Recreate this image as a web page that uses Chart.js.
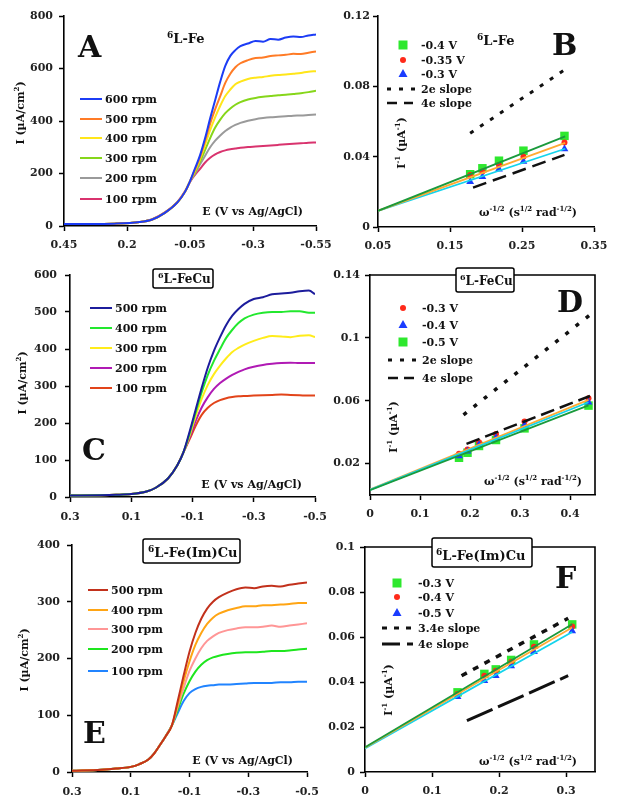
<!DOCTYPE html>
<html>
<head>
<meta charset="utf-8">
<script src="https://cdn.jsdelivr.net/npm/chart.js@4.4.1/dist/chart.umd.min.js"></script>
<style>
html, body { margin: 0; padding: 0; background: #fff; }
#wrap { position: relative; width: 621px; height: 812px; overflow: hidden; background: #fff; }
.p { position: absolute; }
</style>
</head>
<body>
<div id="wrap">
  <div class="p"><canvas id="cA"></canvas></div>
  <div class="p"><canvas id="cB"></canvas></div>
  <div class="p"><canvas id="cC"></canvas></div>
  <div class="p"><canvas id="cD"></canvas></div>
  <div class="p"><canvas id="cE"></canvas></div>
  <div class="p"><canvas id="cF"></canvas></div>
</div>
<script>
const FONT = '"DejaVu Serif", serif';

// ---- Panel A: 6L-Fe, LSV at several rotation rates ----
const eA = [0.45, 0.35, 0.25, 0.15, 0.1, 0.05, 0.0, -0.03, -0.05, -0.07, -0.09, -0.11, -0.13, -0.15,
            -0.17, -0.19, -0.21, -0.23, -0.25, -0.28, -0.31, -0.34, -0.37, -0.40, -0.43, -0.46, -0.49, -0.52, -0.55];
const iA600 = [8, 8, 9, 15, 25, 50, 90, 130, 170, 220, 270, 335, 410, 480, 550, 610, 648, 670, 685, 695, 705, 702, 712, 710, 718, 722, 720, 726, 730];
const iA500 = [8, 8, 9, 15, 25, 50, 90, 130, 170, 215, 262, 325, 390, 445, 495, 545, 580, 605, 620, 632, 640, 642, 648, 650, 652, 656, 655, 660, 665];
const iA400 = [8, 8, 9, 15, 25, 50, 90, 130, 170, 210, 255, 310, 365, 415, 458, 495, 520, 540, 550, 560, 565, 568, 572, 575, 577, 580, 583, 588, 590];
const iA300 = [8, 8, 9, 15, 25, 50, 90, 130, 170, 205, 245, 290, 335, 375, 405, 430, 448, 462, 472, 482, 488, 492, 495, 498, 500, 503, 506, 510, 515];
const iA200 = [8, 8, 9, 15, 25, 50, 90, 130, 170, 200, 235, 268, 300, 325, 345, 362, 375, 385, 393, 401, 407, 411, 414, 416, 418, 420, 421, 423, 425];
const iA100 = [8, 8, 9, 15, 26, 52, 92, 132, 168, 195, 218, 242, 260, 273, 282, 288, 292, 295, 298, 301, 303, 305, 307, 309, 311, 313, 315, 317, 318];
const rpmA = ['600 rpm', '500 rpm', '400 rpm', '300 rpm', '200 rpm', '100 rpm'];
const colA = ['#1c3cf5', '#ff7b26', '#ffe61a', '#86d61a', '#9a9a9a', '#d9336e'];
const axA = [0.45, 0.2, -0.05, -0.3, -0.55];
const ayA = [0, 200, 400, 600, 800];

// ---- Panel B: 6L-Fe, Koutecky-Levich ----
const wB = [0.178, 0.195, 0.218, 0.252, 0.309];
const b04 = [0.0300, 0.0334, 0.0377, 0.0434, 0.0518];
const b035 = [0.0296, 0.0315, 0.0353, 0.0400, 0.0480];
const b03 = [0.0258, 0.0286, 0.0328, 0.0372, 0.0444];
const fitWB = [0.05, 0.31];
const fitB04 = [0.0092, 0.0515];
const fitB035 = [0.0092, 0.0478];
const fitB03 = [0.0092, 0.0445];
const w2eB = [0.178, 0.309], v2eB = [0.0533, 0.0893];
const w4eB = [0.182, 0.309], v4eB = [0.0224, 0.0410];
const axB = [0.05, 0.15, 0.25, 0.35];
const ayB = [0, 0.04, 0.08, 0.12];

// ---- Panel C: 6L-FeCu, LSV ----
const eC = [0.3, 0.2, 0.15, 0.1, 0.05, 0.02, -0.02, -0.05, -0.07, -0.09, -0.11, -0.13, -0.15, -0.17,
            -0.19, -0.21, -0.23, -0.25, -0.27, -0.30, -0.33, -0.36, -0.39, -0.42, -0.45, -0.48, -0.50];
const iC500 = [4, 5, 6, 8, 15, 25, 50, 85, 120, 175, 235, 295, 350, 395, 432, 465, 490, 508, 522, 535, 540, 548, 550, 552, 556, 558, 548];
const iC400 = [4, 5, 6, 8, 15, 25, 50, 85, 120, 170, 228, 283, 330, 368, 400, 430, 452, 470, 483, 493, 498, 500, 500, 502, 502, 498, 498];
const iC300 = [4, 5, 6, 8, 15, 25, 50, 85, 120, 165, 218, 265, 303, 332, 355, 375, 392, 403, 412, 422, 430, 435, 434, 432, 436, 437, 432];
const iC200 = [4, 5, 6, 8, 15, 25, 50, 85, 120, 160, 205, 242, 270, 292, 308, 320, 330, 338, 345, 352, 357, 360, 362, 363, 362, 362, 362];
const iC100 = [4, 5, 6, 8, 15, 25, 50, 85, 120, 155, 192, 222, 241, 254, 262, 267, 270, 272, 273, 274, 275, 276, 277, 276, 275, 274, 274];
const rpmC = ['500 rpm', '400 rpm', '300 rpm', '200 rpm', '100 rpm'];
const colC = ['#1c1c9c', '#22e82e', '#ffec1a', '#b01ab4', '#e2441a'];
const axC = [0.3, 0.1, -0.1, -0.3, -0.5];
const ayC = [0, 100, 200, 300, 400, 500, 600];

// ---- Panel D: 6L-FeCu, Koutecky-Levich ----
const wD = [0.178, 0.195, 0.218, 0.252, 0.309, 0.437];
const d03 = [0.0262, 0.0290, 0.0335, 0.0388, 0.0467, 0.0615];
const d04 = [0.0248, 0.0278, 0.0320, 0.0365, 0.0445, 0.0590];
const d05 = [0.0237, 0.0269, 0.0312, 0.0350, 0.0424, 0.0569];
const fitWD = [0, 0.437];
const fitD03 = [0.0035, 0.0605];
const fitD04 = [0.0033, 0.0590];
const fitD05 = [0.0030, 0.0570];
const w2eD = [0.187, 0.44], v2eD = [0.051, 0.1146];
const w4eD = [0.193, 0.44], v4eD = [0.0325, 0.063];
const axD = [0, 0.1, 0.2, 0.3, 0.4];
const ayD = [0.02, 0.06, 0.1, 0.14];

// ---- Panel E: 6L-Fe(Im)Cu, LSV ----
const eE = [0.3, 0.2, 0.15, 0.1, 0.07, 0.04, 0.02, 0.0, -0.02, -0.04, -0.06, -0.08, -0.10, -0.12,
            -0.14, -0.16, -0.18, -0.20, -0.23, -0.26, -0.29, -0.32, -0.35, -0.38, -0.41, -0.44, -0.47, -0.50];
const iE500 = [2, 4, 6, 9, 14, 22, 33, 48, 64, 82, 125, 170, 212, 245, 270, 288, 300, 308, 316, 322, 325, 324, 327, 328, 327, 330, 332, 334];
const iE400 = [2, 4, 6, 9, 14, 22, 33, 48, 64, 82, 120, 160, 195, 224, 245, 261, 272, 279, 285, 289, 292, 292, 294, 294, 295, 296, 298, 298];
const iE300 = [2, 4, 6, 9, 14, 22, 33, 48, 64, 82, 115, 148, 178, 200, 218, 231, 239, 245, 250, 253, 255, 255, 256, 258, 256, 258, 260, 262];
const iE200 = [2, 4, 6, 9, 14, 22, 33, 48, 64, 82, 110, 138, 160, 177, 189, 197, 202, 205, 208, 210, 211, 211, 212, 213, 213, 214, 216, 217];
const iE100 = [2, 4, 6, 9, 14, 22, 33, 48, 64, 82, 104, 125, 139, 146, 150, 152, 153, 154, 154, 155, 156, 157, 157, 157, 158, 158, 159, 159];
const rpmE = ['500 rpm', '400 rpm', '300 rpm', '200 rpm', '100 rpm'];
const colE = ['#c2311c', '#ffa514', '#ff9696', '#1ee61e', '#2184ff'];
const axE = [0.3, 0.1, -0.1, -0.3, -0.5];
const ayE = [0, 100, 200, 300, 400];

// ---- Panel F: 6L-Fe(Im)Cu, Koutecky-Levich ----
const wF = [0.138, 0.178, 0.195, 0.218, 0.252, 0.309];
const f03 = [0.0354, 0.0436, 0.0456, 0.0498, 0.0567, 0.0656];
const f04 = [0.0347, 0.0428, 0.0450, 0.0490, 0.0557, 0.0647];
const f05 = [0.0335, 0.0406, 0.0428, 0.0471, 0.0535, 0.0627];
const fitWF = [0, 0.309];
const fitF03 = [0.0110, 0.0657];
const fitF04 = [0.0108, 0.0642];
const fitF05 = [0.0105, 0.0622];
const w34eF = [0.144, 0.303], v34eF = [0.0428, 0.0683];
const w4eF = [0.152, 0.303], v4eF = [0.0228, 0.0428];
const axF = [0, 0.1, 0.2, 0.3];
const ayF = [0, 0.02, 0.04, 0.06, 0.08, 0.1];

// marker / fit colours shared by the KL panels
const GREEN = '#2ee82e', RED = '#ff2a1a', BLUE = '#1a3cff';
const FIT_GREEN = '#1a9a3c', FIT_ORANGE = '#ffaa33', FIT_CYAN = '#14d4ec';

function pts(xs, ys) { return xs.map((x, i) => ({ x: x, y: ys[i] })); }

function lsvSets(e, curves, cols, labels) {
  return curves.map((c, i) => ({
    label: labels[i], data: pts(e, c), showLine: true, borderColor: cols[i],
    borderWidth: 2, pointRadius: 0, cubicInterpolationMode: 'monotone', order: i
  }));
}
function marker(xs, ys, col, style, r, ord) {
  return { data: pts(xs, ys), showLine: false, pointStyle: style, pointRadius: r,
           pointBackgroundColor: col, pointBorderWidth: 0, order: ord };
}
function line(xs, ys, col, width, dash, ord) {
  return { data: pts(xs, ys), showLine: true, borderColor: col, borderWidth: width,
           borderDash: dash || [], pointRadius: 0, order: ord };
}

function axis(min, max, ticks, reverse, size, isX, pad) {
  return {
    type: 'linear', min: min, max: max, reverse: !!reverse,
    afterBuildTicks: s => { s.ticks = ticks.map(v => ({ value: v })); },
    afterFit: s => { if (isX) s.height = size; else s.width = size; },
    grid: { display: true, drawOnChartArea: false, drawTicks: true, tickLength: 5,
            tickWidth: 1.5, tickColor: '#000', color: '#000' },
    border: { display: true, color: '#000', width: 1.6 },
    ticks: { color: '#222', padding: pad, autoSkip: false, maxRotation: 0,
             font: { family: FONT, size: 11, weight: 'bold' }, callback: v => String(v) }
  };
}

// text with superscripts: parts = [[text, isSup], ...], y = baseline
function rich(c, parts, x, y, size, align) {
  const big = 'bold ' + size + 'px ' + FONT;
  const small = 'bold ' + Math.round(size * 0.68) + 'px ' + FONT;
  let w = 0;
  parts.forEach(p => { c.font = p[1] ? small : big; w += c.measureText(p[0]).width; });
  let cx = align === 'right' ? x - w : align === 'center' ? x - w / 2 : x;
  c.textAlign = 'left';
  c.textBaseline = 'alphabetic';
  parts.forEach(p => {
    c.font = p[1] ? small : big;
    c.fillText(p[0], cx, p[1] ? y - size * 0.42 : y);
    cx += c.measureText(p[0]).width;
  });
}

function drawMark(c, style, x, y, col) {
  c.fillStyle = col;
  c.beginPath();
  if (style === 'rect') c.rect(x - 4.5, y - 4.5, 9, 9);
  else if (style === 'circle') c.arc(x, y, 3, 0, Math.PI * 2);
  else { c.moveTo(x, y - 5); c.lineTo(x + 4.5, y + 3); c.lineTo(x - 4.5, y + 3); c.closePath(); }
  c.fill();
}

// draws titles, panel letters, axis titles, legends, frames
function deco(spec, box) {
  return {
    id: 'deco',
    afterDraw(chart) {
      const c = chart.ctx, a = chart.chartArea;
      c.save();
      if (spec.frame) {
        c.strokeStyle = '#000'; c.lineWidth = 1.6;
        c.beginPath(); c.moveTo(a.left, a.top); c.lineTo(a.right, a.top); c.lineTo(a.right, a.bottom); c.stroke();
      }
      c.translate(-box.x, -box.y);
      c.fillStyle = '#111';
      if (spec.tbox) {
        const t = spec.tbox;
        c.fillStyle = '#fff'; c.strokeStyle = '#000'; c.lineWidth = 1.5;
        c.beginPath(); c.roundRect(t[0], t[1], t[2], t[3], 2); c.fill(); c.stroke();
        c.fillStyle = '#111';
      }
      rich(c, [['6', 1], [spec.title, 0]], spec.tx, spec.ty, spec.tsize, 'left');
      c.font = 'bold 30px ' + FONT;
      c.textAlign = 'left'; c.textBaseline = 'alphabetic';
      c.fillText(spec.letter[0], spec.letter[1], spec.letter[2]);
      // y title (rotated)
      c.save();
      c.translate(spec.yt[0], spec.yt[1]);
      c.rotate(-Math.PI / 2);
      rich(c, spec.yparts, 0, 4, 11, 'center');
      c.restore();
      rich(c, spec.xparts, spec.xt[0], spec.xt[1], 11, 'right');
      // legend
      const L = spec.legend;
      L.rows.forEach(r => {
        if (r.type === 'line') {
          c.save();
          c.strokeStyle = r.color; c.lineWidth = r.width; c.setLineDash(r.dash || []);
          c.beginPath(); c.moveTo(L.lx0, r.y); c.lineTo(r.lx1 || L.lx1, r.y); c.stroke();
          c.restore();
        } else {
          drawMark(c, r.type, L.mx, r.y, r.color);
        }
        c.fillStyle = '#111';
        c.font = 'bold 11px ' + FONT;
        c.textAlign = 'left'; c.textBaseline = 'alphabetic';
        c.fillText(r.label, L.tx, r.y + 4);
      });
      c.restore();
    }
  };
}

function makeChart(id, box, xAx, yAx, datasets, spec) {
  const cv = document.getElementById(id);
  cv.width = box.w; cv.height = box.h;
  cv.parentNode.style.cssText = 'left:' + box.x + 'px;top:' + box.y + 'px;width:' + box.w + 'px;height:' + box.h + 'px';
  new Chart(cv, {
    type: 'scatter',
    data: { datasets: datasets },
    options: {
      responsive: false, animation: false, events: [],
      layout: { padding: { left: 0, right: box.pr, top: box.pt, bottom: 0 } },
      plugins: { legend: { display: false }, tooltip: { enabled: false } },
      scales: { x: xAx, y: yAx }
    },
    plugins: [deco(spec, box)]
  });
}

const yLSV = [['I (\u00b5A/cm', 0], ['2', 1], [')', 0]];
const xLSV = [['E (V vs Ag/AgCl)', 0]];
const yKL = [['I', 0], ['-1', 1], [' (\u00b5A', 0], ['-1', 1], [')', 0]];
const xKL = [['\u03c9', 0], ['-1/2', 1], [' (s', 0], ['1/2', 1], [' rad', 0], ['-1/2', 1], [')', 0]];

function lsvLegend(lx0, lx1, tx, ys, labels, cols) {
  return { lx0: lx0, lx1: lx1, tx: tx,
           rows: ys.map((y, i) => ({ type: 'line', color: cols[i], width: 2, label: labels[i], y: y })) };
}

// ---------- A ----------
makeChart('cA', { x: 0, y: 0, w: 345, h: 262, pr: 29, pt: 16 },
  axis(-0.55, 0.45, axA, true, 36, true, 8),
  axis(0, 800, ayA, false, 64, false, 6),
  lsvSets(eA, [iA600, iA500, iA400, iA300, iA200, iA100], colA, rpmA),
  { title: 'L-Fe', tx: 167, ty: 43, tsize: 13, letter: ['A', 78, 57],
    yt: [20, 113], yparts: yLSV, xt: [303, 215], xparts: xLSV,
    legend: lsvLegend(80, 102, 105, [99, 119, 138, 158, 178, 199], rpmA, colA) });

// ---------- B ----------
makeChart('cB', { x: 320, y: 0, w: 301, h: 262, pr: 27, pt: 16 },
  axis(0.05, 0.35, axB, false, 35, true, 8),
  axis(0, 0.12, ayB, false, 58, false, 3),
  [
    line(fitWB, fitB04, FIT_GREEN, 1.8, null, 0),
    line(fitWB, fitB035, FIT_ORANGE, 1.8, null, 0),
    line(fitWB, fitB03, FIT_CYAN, 1.8, null, 0),
    line(w2eB, v2eB, '#111', 3, [4, 8], 0),
    line(w4eB, v4eB, '#111', 2.5, [14, 7], 0),
    marker(wB, b03, BLUE, 'triangle', 4.5, 1),
    marker(wB, b035, RED, 'circle', 3, 2),
    marker(wB, b04, GREEN, 'rect', 6, 3)
  ],
  { title: 'L-Fe', tx: 477, ty: 45, tsize: 13, letter: ['B', 552, 55],
    yt: [401, 143], yparts: yKL, xt: [577, 216], xparts: xKL,
    legend: { lx0: 387, lx1: 420, mx: 403, tx: 421, rows: [
      { type: 'rect', color: GREEN, label: '-0.4 V', y: 45 },
      { type: 'circle', color: RED, label: '-0.35 V', y: 60 },
      { type: 'triangle', color: BLUE, label: '-0.3 V', y: 74 },
      { type: 'line', color: '#111', width: 3, dash: [4, 8], label: '2e slope', y: 89 },
      { type: 'line', color: '#111', width: 2.5, dash: [10, 7], lx1: 413, label: '4e slope', y: 103 }
    ] } });

// ---------- C ----------
makeChart('cC', { x: 0, y: 260, w: 345, h: 272, pr: 30, pt: 15 },
  axis(-0.5, 0.3, axC, true, 35, true, 9),
  axis(0, 600, ayC, false, 70, false, 8),
  lsvSets(eC, [iC500, iC400, iC300, iC200, iC100], colC, rpmC),
  { title: 'L-FeCu', tx: 158, ty: 283, tsize: 12, tbox: [153, 269, 60, 19], letter: ['C', 82, 460],
    yt: [22, 383], yparts: yLSV, xt: [302, 488], xparts: xLSV,
    legend: lsvLegend(90, 112, 115, [308, 328, 348, 368, 388], rpmC, colC) });

// ---------- D ----------
makeChart('cD', { x: 320, y: 260, w: 301, h: 272, pr: 26, pt: 15 },
  axis(0, 0.45, axD, false, 37, true, 8),
  axis(0, 0.14, ayD, false, 50, false, 5),
  [
    line(fitWD, fitD05, FIT_GREEN, 1.8, null, 0),
    line(fitWD, fitD04, FIT_CYAN, 1.8, null, 0),
    line(fitWD, fitD03, FIT_ORANGE, 1.8, null, 0),
    line(w2eD, v2eD, '#111', 3.5, [4, 9], 0),
    line(w4eD, v4eD, '#111', 2.5, [14, 6], 0),
    marker(wD, d04, BLUE, 'triangle', 4.5, 1),
    marker(wD, d03, RED, 'circle', 3, 2),
    marker(wD, d05, GREEN, 'rect', 6, 3)
  ],
  { frame: true, title: 'L-FeCu', tx: 460, ty: 285, tsize: 12, tbox: [456, 268, 58, 24], letter: ['D', 557, 312],
    yt: [393, 427], yparts: yKL, xt: [582, 485], xparts: xKL,
    legend: { lx0: 388, lx1: 418, mx: 403, tx: 422, rows: [
      { type: 'circle', color: RED, label: '-0.3 V', y: 308 },
      { type: 'triangle', color: BLUE, label: '-0.4 V', y: 325 },
      { type: 'rect', color: GREEN, label: '-0.5 V', y: 342 },
      { type: 'line', color: '#111', width: 3, dash: [4, 8], label: '2e slope', y: 360 },
      { type: 'line', color: '#111', width: 2.5, dash: [10, 6], lx1: 416, label: '4e slope', y: 378 }
    ] } });

// ---------- E ----------
makeChart('cE', { x: 0, y: 530, w: 345, h: 282, pr: 38, pt: 15 },
  axis(-0.5, 0.3, axE, true, 40, true, 9),
  axis(0, 400, ayE, false, 72, false, 7),
  lsvSets(eE, [iE500, iE400, iE300, iE200, iE100], colE, rpmE),
  { title: 'L-Fe(Im)Cu', tx: 148, ty: 557, tsize: 13, tbox: [143, 539, 97, 24], letter: ['E', 83, 743],
    yt: [24, 660], yparts: yLSV, xt: [293, 764], xparts: xLSV,
    legend: lsvLegend(88, 108, 111, [590, 610, 629, 649, 671], rpmE, colE) });

// ---------- F ----------
makeChart('cF', { x: 320, y: 530, w: 301, h: 282, pr: 26, pt: 17 },
  axis(0, 0.343, axF, false, 40, true, 8),
  axis(0, 0.1, ayF, false, 45, false, 5),
  [
    line(fitWF, fitF03, FIT_GREEN, 1.8, null, 0),
    line(fitWF, fitF04, FIT_ORANGE, 1.8, null, 0),
    line(fitWF, fitF05, FIT_CYAN, 1.8, null, 0),
    line(w34eF, v34eF, '#111', 3.5, [6, 7], 0),
    line(w4eF, v4eF, '#111', 3, [28, 6], 0),
    marker(wF, f05, BLUE, 'triangle', 4.5, 1),
    marker(wF, f04, RED, 'circle', 3, 2),
    marker(wF, f03, GREEN, 'rect', 6, 3)
  ],
  { frame: true, title: 'L-Fe(Im)Cu', tx: 436, ty: 560, tsize: 13, tbox: [432, 538, 100, 29], letter: ['F', 555, 588],
    yt: [388, 690], yparts: yKL, xt: [577, 765], xparts: xKL,
    legend: { lx0: 382, lx1: 413, mx: 397, tx: 418, rows: [
      { type: 'rect', color: GREEN, label: '-0.3 V', y: 583 },
      { type: 'circle', color: RED, label: '-0.4 V', y: 597 },
      { type: 'triangle', color: BLUE, label: '-0.5 V', y: 613 },
      { type: 'line', color: '#111', width: 3, dash: [5, 7], label: '3.4e slope', y: 628 },
      { type: 'line', color: '#111', width: 3, dash: [18, 7], label: '4e slope', y: 644 }
    ] } });
</script>
</body>
</html>
